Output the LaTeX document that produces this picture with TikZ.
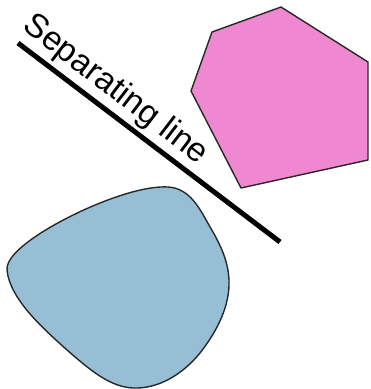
\documentclass[tikz,border=0pt]{standalone}
\usepackage{fontspec}
\setmainfont{Liberation Sans}
\definecolor{hexpink}{RGB}{239,135,209}
\definecolor{blobblue}{RGB}{150,191,214}
\definecolor{edgegray}{RGB}{40,40,40}
\begin{document}
\begin{tikzpicture}[x=1pt, y=-1pt,
    shapeedge/.style={draw=edgegray, line width=1.4pt, line join=round},
    sepline/.style={line width=5pt},
    every node/.style={inner sep=0pt, font=\fontsize{33.5}{40}\selectfont}]
    \useasboundingbox (0,0) rectangle (371,389);

    % Separating line
    \coordinate (lineStart) at (18,43);
    \coordinate (lineEnd) at (280,242);
    \draw[sepline] (lineStart) -- (lineEnd);
    \node[rotate=-37.5, anchor=base] (label) at (110,97) {Separating line};

    % Hexagon
    \filldraw[shapeedge, fill=hexpink]
        (212,32) -- (281,7) -- (368,62) -- (368,160) -- (241,188) -- (191,91) -- cycle;

    % Blob
    \filldraw[shapeedge, fill=blobblue]
        (100,203) .. controls (125,193) and (150,186) .. (168,187)
        .. controls (185,188) and (195,200) .. (205,218)
        .. controls (215,236) and (228,255) .. (229,280)
        .. controls (230,305) and (218,330) .. (200,353)
        .. controls (182,375) and (158,389) .. (133,388)
        .. controls (110,387) and (90,370) .. (67,350)
        .. controls (45,330) and (10,300) .. (7,270)
        .. controls (5,250) and (60,219) .. (100,203) -- cycle;
\end{tikzpicture}
\end{document}
